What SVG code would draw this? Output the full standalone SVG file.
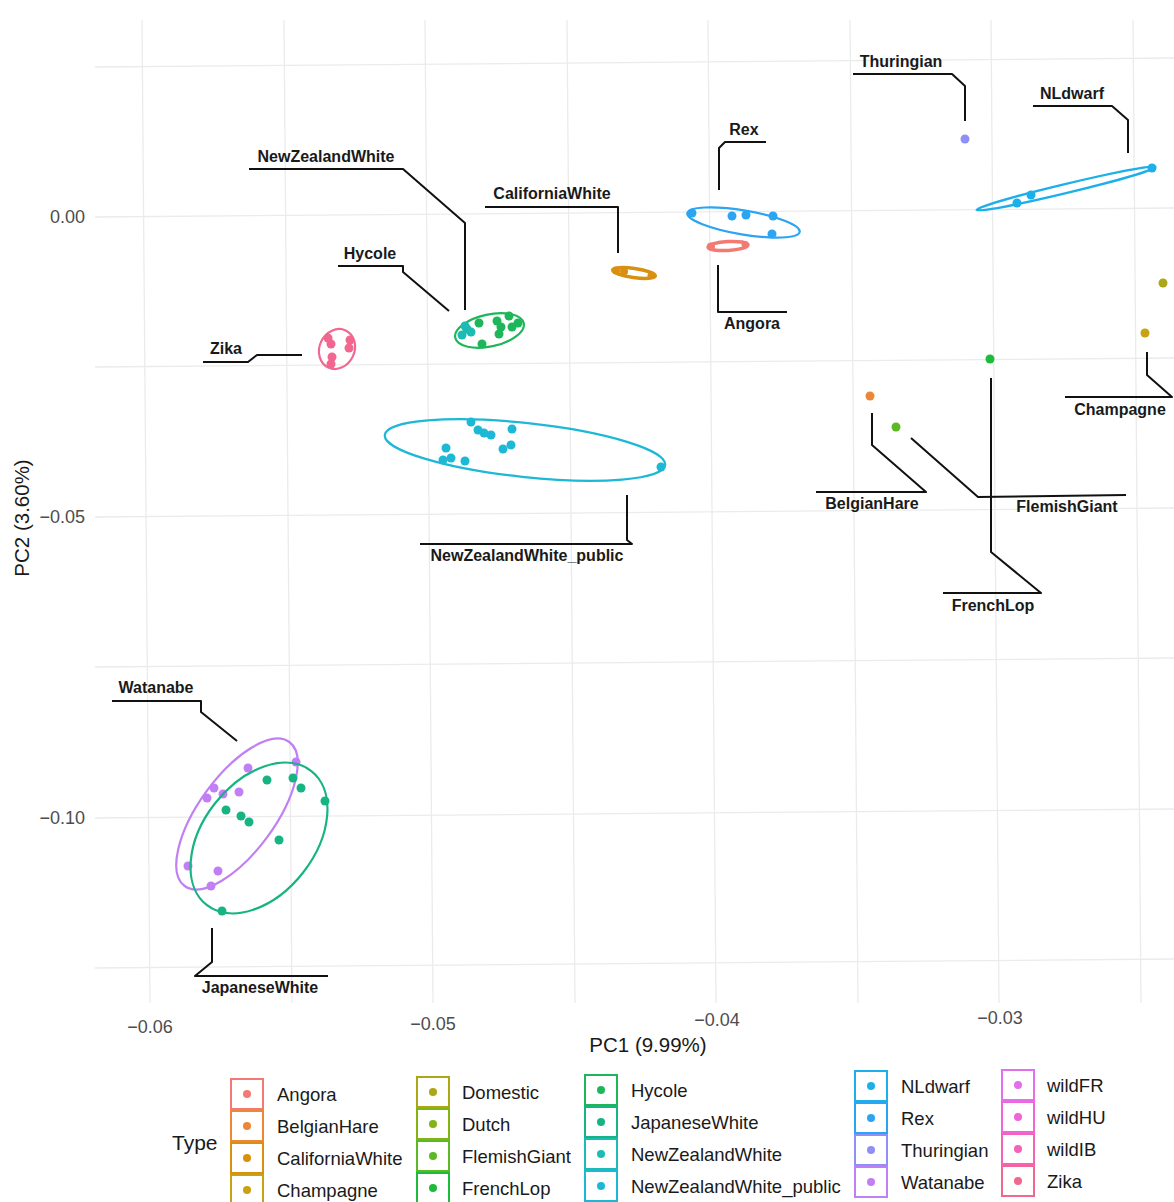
<svg xmlns="http://www.w3.org/2000/svg" width="1174" height="1202" viewBox="0 0 1174 1202">
<style>
.grid line{stroke:#ebebeb;stroke-width:1.3}
.tick{font-family:"Liberation Sans",Arial,sans-serif;font-size:18px;fill:#4d4d4d}
.title{font-family:"Liberation Sans",Arial,sans-serif;font-size:20.5px;fill:#1a1a1a}
.lab{font-family:"Liberation Sans",Arial,sans-serif;font-size:16px;font-weight:bold;fill:#1a1a1a;text-anchor:middle}
.leg{font-family:"Liberation Sans",Arial,sans-serif;font-size:18.5px;fill:#1a1a1a}
.conn polyline{fill:none;stroke:#111;stroke-width:2;stroke-linejoin:round}
.ell{fill:none;stroke-width:2.2}
.key rect{fill:#fff;stroke-width:2}
</style>
<rect width="1174" height="1202" fill="#fff"/>
<g class="grid">
<line x1="95" y1="67" x2="1174" y2="58"/>
<line x1="95" y1="217" x2="1174" y2="208"/>
<line x1="95" y1="367" x2="1174" y2="358"/>
<line x1="95" y1="517" x2="1174" y2="508"/>
<line x1="95" y1="667" x2="1174" y2="658"/>
<line x1="95" y1="818" x2="1174" y2="809"/>
<line x1="95" y1="968" x2="1174" y2="959"/>
<line x1="142" y1="20" x2="150" y2="1003"/>
<line x1="284" y1="20" x2="292" y2="1003"/>
<line x1="425" y1="20" x2="433" y2="1003"/>
<line x1="567" y1="20" x2="575" y2="1003"/>
<line x1="708" y1="20" x2="716" y2="1003"/>
<line x1="850" y1="20" x2="858" y2="1003"/>
<line x1="991" y1="20" x2="999" y2="1003"/>
<line x1="1133" y1="20" x2="1141" y2="1003"/>
</g>
<g id="axes">
<text class="tick" x="85" y="223" text-anchor="end">0.00</text>
<text class="tick" x="85" y="523" text-anchor="end">−0.05</text>
<text class="tick" x="85" y="824" text-anchor="end">−0.10</text>
<text class="tick" x="150" y="1033" text-anchor="middle">−0.06</text>
<text class="tick" x="433" y="1030" text-anchor="middle">−0.05</text>
<text class="tick" x="717" y="1026" text-anchor="middle">−0.04</text>
<text class="tick" x="1000" y="1024" text-anchor="middle">−0.03</text>
<text class="title" x="648" y="1052" text-anchor="middle">PC1 (9.99%)</text>
<text class="title" x="0" y="0" text-anchor="middle" transform="translate(29 518) rotate(-90)">PC2 (3.60%)</text>
</g>
<g id="connectors" class="conn">
<polyline points="853,74 952,74 965,86 965,121"/>
<polyline points="1033,106 1112,106 1128,120 1128,153"/>
<polyline points="766,142 725,142 719,148 719,190"/>
<polyline points="485,207 618,207 618,253"/>
<polyline points="249,169 403,169 465,223 465,310"/>
<polyline points="338,266 403,266 403,272 449,311"/>
<polyline points="203,362 248,362 257,355 302,355"/>
<polyline points="718,265 718,312 787,312"/>
<polyline points="627,495 627,540 632,544 420,544"/>
<polyline points="1147,352 1147,375 1172,397 1065,397"/>
<polyline points="872,413 872,445 926,492 816,492"/>
<polyline points="911,438 978,497 1126,495"/>
<polyline points="991,378 991,552 1041,593 943,593"/>
<polyline points="112,701 201,701 201,712 237,741"/>
<polyline points="212,928 212,962 195,976 328,976"/>
</g>
<g id="Thuringian">
<circle cx="965" cy="139" r="4.5" fill="#8E8FF7"/>
<text class="lab" x="901" y="67">Thuringian</text>
</g>
<g id="NLdwarf" fill="#1DAFEA">
<ellipse class="ell" cx="1066" cy="188.5" rx="92" ry="4.5" transform="rotate(-13.5 1066 188.5)" stroke="#1DAFEA"/>
<circle cx="1017" cy="203" r="4.5"/><circle cx="1031" cy="195" r="4.5"/><circle cx="1152" cy="168" r="4.5"/>
<text class="lab" x="1072" y="99">NLdwarf</text>
</g>
<g id="Rex" fill="#2BA4F2">
<ellipse class="ell" cx="743.5" cy="222.5" rx="57" ry="12" transform="rotate(9.5 743.5 222.5)" stroke="#2BA4F2"/>
<circle cx="692" cy="213" r="4.5"/><circle cx="732" cy="216" r="4.5"/><circle cx="746" cy="215" r="4.5"/><circle cx="773" cy="216" r="4.5"/><circle cx="772" cy="234" r="4.5"/>
<text class="lab" x="744" y="135">Rex</text>
</g>
<g id="Angora" fill="#F27A72">
<ellipse cx="728" cy="246" rx="20" ry="4.5" transform="rotate(-3 728 246)" fill="none" stroke="#F27A72" stroke-width="3.5"/>
<circle cx="711" cy="246.5" r="4"/><circle cx="745" cy="244.5" r="3.5"/>
<text class="lab" x="752" y="329">Angora</text>
</g>
<g id="CaliforniaWhite" fill="#D99010">
<ellipse cx="634" cy="273" rx="21.5" ry="4.5" transform="rotate(8 634 273)" fill="none" stroke="#D99010" stroke-width="3.5"/>
<circle cx="616" cy="270.5" r="4"/><circle cx="624" cy="271.5" r="4"/><circle cx="651" cy="275.5" r="3.5"/>
<text class="lab" x="552" y="199">CaliforniaWhite</text>
</g>
<g id="Hycole" fill="#1DB75A">
<ellipse class="ell" cx="489.5" cy="330.5" rx="35" ry="16" transform="rotate(-12 489.5 330.5)" stroke="#1DB75A"/>
<circle cx="479" cy="323" r="4.5"/><circle cx="497" cy="321" r="4.5"/><circle cx="509" cy="316" r="4.5"/><circle cx="501" cy="327" r="4.5"/><circle cx="512" cy="327" r="4.5"/><circle cx="518" cy="323" r="4.5"/><circle cx="499" cy="334" r="4.5"/><circle cx="482" cy="344" r="4.5"/>
<text class="lab" x="370" y="259">Hycole</text>
</g>
<g id="NewZealandWhite" fill="#1CBBB3">
<circle cx="467" cy="329" r="4.5"/><circle cx="462" cy="335" r="4.5"/><circle cx="471" cy="332" r="4.5"/><circle cx="465" cy="326" r="4.5"/>
<text class="lab" x="326" y="162">NewZealandWhite</text>
</g>
<g id="Zika" fill="#F2678F">
<ellipse class="ell" cx="337" cy="349" rx="20.5" ry="17.5" transform="rotate(-65 337 349)" stroke="#F2678F"/>
<circle cx="328" cy="338" r="4.5"/><circle cx="350" cy="340" r="4.5"/><circle cx="349" cy="348" r="4.5"/><circle cx="331" cy="344" r="4.5"/><circle cx="332" cy="357" r="4.5"/><circle cx="331" cy="364" r="4.5"/>
<text class="lab" x="226" y="354">Zika</text>
</g>
<g id="NewZealandWhite_public" fill="#1DB8D6">
<ellipse class="ell" cx="525" cy="450" rx="141" ry="27" transform="rotate(6.1 525 450)" stroke="#1DB8D6"/>
<circle cx="471" cy="422" r="4.5"/><circle cx="478" cy="430" r="4.5"/><circle cx="484" cy="433" r="4.5"/><circle cx="491" cy="435" r="4.5"/><circle cx="512" cy="429" r="4.5"/><circle cx="446" cy="448" r="4.5"/><circle cx="443" cy="460" r="4.5"/><circle cx="451" cy="458" r="4.5"/><circle cx="465" cy="461" r="4.5"/><circle cx="503" cy="449" r="4.5"/><circle cx="511" cy="445" r="4.5"/><circle cx="661" cy="467" r="4.5"/>
<text class="lab" x="527" y="561">NewZealandWhite_public</text>
</g>
<g id="Domestic"><circle cx="1163" cy="283" r="4.5" fill="#ABA716"/></g>
<g id="Champagne">
<circle cx="1145" cy="333" r="4.5" fill="#C9A114"/>
<text class="lab" x="1120" y="415">Champagne</text>
</g>
<g id="FrenchLop">
<circle cx="990" cy="359" r="4.5" fill="#1DBB3A"/>
<text class="lab" x="993" y="611">FrenchLop</text>
</g>
<g id="BelgianHare">
<circle cx="870" cy="396" r="4.5" fill="#EE8637"/>
<text class="lab" x="872" y="509">BelgianHare</text>
</g>
<g id="FlemishGiant">
<circle cx="896" cy="427" r="4.5" fill="#5CB823"/>
<text class="lab" x="1067" y="512">FlemishGiant</text>
</g>
<g id="Watanabe" fill="#C17FF5">
<ellipse class="ell" cx="237" cy="814" rx="89" ry="38" transform="rotate(-54 237 814)" stroke="#C17FF5"/>
<circle cx="248" cy="768" r="4.5"/><circle cx="214" cy="788" r="4.5"/><circle cx="207" cy="798" r="4.5"/><circle cx="223" cy="794" r="4.5"/><circle cx="239" cy="792" r="4.5"/><circle cx="296" cy="762" r="4.5"/><circle cx="188" cy="866" r="4.5"/><circle cx="218" cy="871" r="4.5"/><circle cx="211" cy="886" r="4.5"/>
<text class="lab" x="156" y="693">Watanabe</text>
</g>
<g id="JapaneseWhite" fill="#16B383">
<ellipse class="ell" cx="259" cy="838" rx="85" ry="56" transform="rotate(-52 259 838)" stroke="#16B383"/>
<circle cx="267" cy="780" r="4.5"/><circle cx="293" cy="778" r="4.5"/><circle cx="301" cy="788" r="4.5"/><circle cx="325" cy="801" r="4.5"/><circle cx="226" cy="810" r="4.5"/><circle cx="241" cy="816" r="4.5"/><circle cx="249" cy="822" r="4.5"/><circle cx="279" cy="840" r="4.5"/><circle cx="222" cy="911" r="4.5"/>
<text class="lab" x="260" y="993">JapaneseWhite</text>
</g>
<g id="legend">
<text class="title" x="172" y="1150" style="font-size:21px">Type</text>
<g class="key">
<rect x="231" y="1079" width="32" height="30" stroke="#F27A72"/><circle cx="247" cy="1094" r="4" fill="#F27A72"/>
<rect x="231" y="1111" width="32" height="30" stroke="#EE8637"/><circle cx="247" cy="1126" r="4" fill="#EE8637"/>
<rect x="231" y="1143" width="32" height="30" stroke="#D99010"/><circle cx="247" cy="1158" r="4" fill="#D99010"/>
<rect x="231" y="1175" width="32" height="30" stroke="#C9A114"/><circle cx="247" cy="1190" r="4" fill="#C9A114"/>
<rect x="417" y="1077" width="32" height="30" stroke="#ABA716"/><circle cx="433" cy="1092" r="4" fill="#ABA716"/>
<rect x="417" y="1109" width="32" height="30" stroke="#82B414"/><circle cx="433" cy="1124" r="4" fill="#82B414"/>
<rect x="417" y="1141" width="32" height="30" stroke="#5CB823"/><circle cx="433" cy="1156" r="4" fill="#5CB823"/>
<rect x="417" y="1173" width="32" height="30" stroke="#1DBB3A"/><circle cx="433" cy="1188" r="4" fill="#1DBB3A"/>
<rect x="585" y="1075" width="32" height="30" stroke="#1DB75A"/><circle cx="601" cy="1090" r="4" fill="#1DB75A"/>
<rect x="585" y="1107" width="32" height="30" stroke="#16B383"/><circle cx="601" cy="1122" r="4" fill="#16B383"/>
<rect x="585" y="1139" width="32" height="30" stroke="#1CBBB3"/><circle cx="601" cy="1154" r="4" fill="#1CBBB3"/>
<rect x="585" y="1171" width="32" height="30" stroke="#1DB8D6"/><circle cx="601" cy="1186" r="4" fill="#1DB8D6"/>
<rect x="855" y="1071" width="32" height="30" stroke="#1DAFEA"/><circle cx="871" cy="1086" r="4" fill="#1DAFEA"/>
<rect x="855" y="1103" width="32" height="30" stroke="#2BA4F2"/><circle cx="871" cy="1118" r="4" fill="#2BA4F2"/>
<rect x="855" y="1135" width="32" height="30" stroke="#8E8FF7"/><circle cx="871" cy="1150" r="4" fill="#8E8FF7"/>
<rect x="855" y="1167" width="32" height="30" stroke="#C17FF5"/><circle cx="871" cy="1182" r="4" fill="#C17FF5"/>
<rect x="1002" y="1070" width="32" height="30" stroke="#E36EEE"/><circle cx="1018" cy="1085" r="4" fill="#E36EEE"/>
<rect x="1002" y="1102" width="32" height="30" stroke="#F065D8"/><circle cx="1018" cy="1117" r="4" fill="#F065D8"/>
<rect x="1002" y="1134" width="32" height="30" stroke="#F562B8"/><circle cx="1018" cy="1149" r="4" fill="#F562B8"/>
<rect x="1002" y="1166" width="32" height="30" stroke="#F2678F"/><circle cx="1018" cy="1181" r="4" fill="#F2678F"/>
</g>
<text class="leg" x="277" y="1101">Angora</text>
<text class="leg" x="277" y="1133">BelgianHare</text>
<text class="leg" x="277" y="1165">CaliforniaWhite</text>
<text class="leg" x="277" y="1197">Champagne</text>
<text class="leg" x="462" y="1099">Domestic</text>
<text class="leg" x="462" y="1131">Dutch</text>
<text class="leg" x="462" y="1163">FlemishGiant</text>
<text class="leg" x="462" y="1195">FrenchLop</text>
<text class="leg" x="631" y="1097">Hycole</text>
<text class="leg" x="631" y="1129">JapaneseWhite</text>
<text class="leg" x="631" y="1161">NewZealandWhite</text>
<text class="leg" x="631" y="1193">NewZealandWhite_public</text>
<text class="leg" x="901" y="1093">NLdwarf</text>
<text class="leg" x="901" y="1125">Rex</text>
<text class="leg" x="901" y="1157">Thuringian</text>
<text class="leg" x="901" y="1189">Watanabe</text>
<text class="leg" x="1047" y="1092">wildFR</text>
<text class="leg" x="1047" y="1124">wildHU</text>
<text class="leg" x="1047" y="1156">wildIB</text>
<text class="leg" x="1047" y="1188">Zika</text>
</g>
</svg>
